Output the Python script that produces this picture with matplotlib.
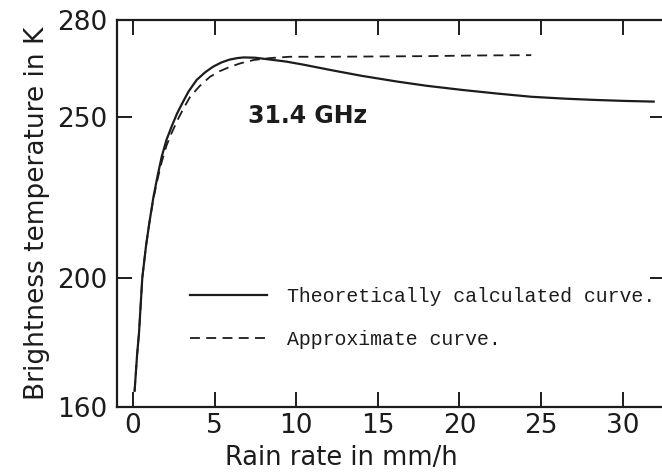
import matplotlib
matplotlib.use('Agg')
import matplotlib.pyplot as plt

# Theoretically calculated curve (31.4 GHz)
rain_theory = [0.1, 0.25, 0.37, 0.57, 0.8, 1.0, 1.25, 1.5, 1.76, 2.05, 2.37, 2.7, 3.0, 3.4,
               3.9, 4.4, 4.9, 5.4, 5.9, 6.4, 6.8, 7.5, 8.3, 9.4, 10.5, 12.1, 14.0, 16.2,
               18.0, 20.2, 22.3, 24.4, 26.5, 28.4, 30.2, 31.9]
tb_theory = [165, 176, 183, 200, 210, 217, 225, 231.5, 237.6, 242.8, 247, 251, 254, 257.8,
             261.4, 263.7, 265.5, 266.8, 267.7, 268.2, 268.4, 268.3, 267.8, 267.1, 266.1,
             264.5, 262.7, 260.9, 259.6, 258.3, 257.2, 256.2, 255.6, 255.2, 254.9, 254.7]

# Approximate curve
rain_approx = [0.1, 0.25, 0.37, 0.57, 0.8, 1.0, 1.25, 1.5, 1.76, 2.05, 2.37, 2.78, 3.1, 3.5,
               4.1, 4.72, 5.3, 5.95, 6.6, 7.4, 8.4, 9.6, 12.0, 15.0, 18.0, 21.0, 24.4]
tb_approx = [165, 176, 183, 200, 210, 217, 224.5, 230.5, 236, 241, 245, 249.5, 252.6, 256.2,
             259.6, 262.4, 264.1, 265.5, 266.6, 267.6, 268.2, 268.6, 268.6, 268.7, 268.8,
             269.0, 269.1]

xticks = [0, 5, 10, 15, 20, 25, 30]
yticks = [160, 200, 250, 280]

ink = '#1c1c1c'

fig = plt.figure(figsize=(6.62, 4.73), dpi=100)
ax = fig.add_axes([0.1767, 0.1395, 0.828, 0.8182])

ax.plot(rain_theory, tb_theory, color=ink, lw=1.6, label='Theoretically calculated curve.')
ax.plot(rain_approx, tb_approx, color=ink, lw=1.3, ls=(0, (5.5, 3.5)), label='Approximate curve.')

ax.set_xlim(-0.98, 32.6)
ax.set_ylim(160, 280)
ax.set_xticks(xticks)
ax.set_yticks(yticks)
ax.tick_params(direction='in', length=11, width=1.4, labelsize=19, top=True, right=True,
               colors=ink)
ax.tick_params(axis='x', pad=4)
ax.tick_params(axis='y', pad=7)
for s in ax.spines.values():
    s.set_linewidth(1.6)
    s.set_color(ink)

ax.set_xlabel('Rain rate in mm/h', fontsize=18.5, color=ink, labelpad=-1)
ax.xaxis.set_label_coords(0.41, -0.097)
ax.set_ylabel('Brightness temperature in K', fontsize=19, color=ink, labelpad=5)

ax.text(7.05, 250.2, '31.4 GHz', fontsize=17, fontweight='bold', color=ink, va='center')

ax.legend(loc='upper left', bbox_to_anchor=(0.133, 0.31), frameon=False,
          borderpad=0, borderaxespad=0,
          prop={'family': 'Liberation Mono', 'size': 14.3}, handlelength=3.9,
          handletextpad=1.0, labelspacing=1.2, labelcolor=ink)

fig.savefig('out.png', dpi=100)
